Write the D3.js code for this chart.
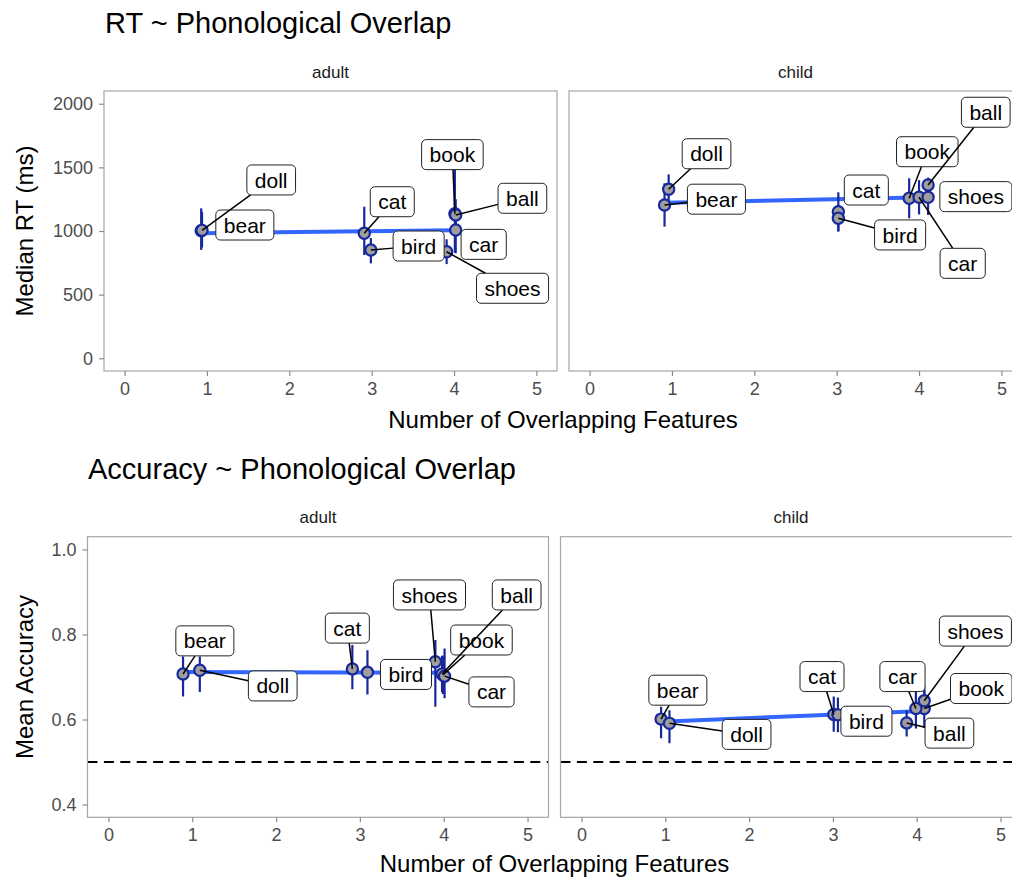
<!DOCTYPE html>
<html><head><meta charset="utf-8">
<script src="https://cdn.jsdelivr.net/npm/d3@7"></script>
<style>
body{margin:0;background:#fff;}
svg{display:block;font-family:"Liberation Sans",Arial,Helvetica,sans-serif;}
</style></head>
<body><svg id="chart" width="1012" height="879"></svg>
<script>
// ---------------- data ----------------
const words = ["bear","doll","cat","bird","book","ball","car","shoes"];

// RT, adult
const rtAdultX  = [0.93, 0.94, 2.91, 2.99, 4.01, 4.02, 4.02, 3.91];
const rtAdultY  = [1002, 1005, 982, 851, 1135, 1126, 1008, 837];
const rtAdultLo = [851, 870, 811, 746, 830, 1000, 825, 740];
const rtAdultHi = [1178, 1150, 1191, 945, 1560, 1250, 1190, 935];
const rtAdultFit = [983, 1006];

// RT, child
const rtChildX  = [0.91, 0.96, 3.02, 3.02, 3.88, 4.11, 4.00, 4.11];
const rtChildY  = [1204, 1328, 1152, 1100, 1257, 1361, 1265, 1265];
const rtChildLo = [1034, 1210, 1000, 994, 1100, 1300, 1130, 1126];
const rtChildHi = [1375, 1445, 1304, 1206, 1414, 1420, 1400, 1400];
const rtChildFit = [1221, 1266];

// Accuracy, adult
const accAdultX  = [0.89, 1.09, 2.91, 3.09, 3.99, 3.98, 4.01, 3.90];
const accAdultY  = [0.707, 0.716, 0.719, 0.711, 0.705, 0.707, 0.702, 0.736];
const accAdultLo = [0.654, 0.665, 0.671, 0.659, 0.660, 0.665, 0.650, 0.630];
const accAdultHi = [0.748, 0.748, 0.775, 0.763, 0.750, 0.750, 0.767, 0.787];
const accAdultFit = [0.712, 0.710];

// Accuracy, child
const accChildX  = [0.95, 1.05, 3.01, 3.06, 4.09, 3.88, 3.99, 4.09];
const accChildY  = [0.601, 0.591, 0.612, 0.611, 0.626, 0.592, 0.626, 0.644];
const accChildLo = [0.556, 0.544, 0.571, 0.570, 0.580, 0.560, 0.579, 0.610];
const accChildHi = [0.630, 0.622, 0.654, 0.652, 0.670, 0.622, 0.669, 0.680];
const accChildFit = [0.595, 0.620];

const xLimits = [0, 5];
const xTickValues = [0, 1, 2, 3, 4, 5];
const rtLimits = [0, 2000];
const rtTickValues = [0, 500, 1000, 1500, 2000];
const accLimits = [0.4, 1.0];
const accTickValues = [0.4, 0.6, 0.8, 1.0];
const chanceLevel = 0.5;
const facets = ["adult", "child"];

// label placement (repelled positions, in data units), same order as words
const LABEL_POS = {
  rtAdult:  [[1.46,1047],[1.78,1401],[3.25,1230],[3.57,882],[3.98,1600],[4.83,1257],[4.36,895],[4.71,550]],
  rtChild:  [[1.54,1250],[1.42,1607],[3.36,1322],[3.77,969],[4.10,1623],[4.81,1933],[4.53,746],[4.69,1270]],
  accAdult: [[1.15,0.785],[1.96,0.679],[2.85,0.815],[3.55,0.706],[4.45,0.787],[4.87,0.893],[4.57,0.665],[3.83,0.893]],
  accChild: [[1.15,0.669],[1.97,0.565],[2.87,0.701],[3.40,0.596],[4.77,0.673],[4.39,0.568],[3.83,0.701],[4.70,0.808]]
};

// ---------------- drawing ----------------
const svg = d3.select("#chart");
const POINT_FILL = "#9e9e9e", DARK = "#17289c", SMOOTH = "#3366FF";
function expand(l){const r=l[1]-l[0];return [l[0]-0.05*r, l[1]+0.05*r];}
function rows_(){
  return [
    {title:"RT ~ Phonological Overlap", tx:105, ty:33, yTitle:"Median RT (ms)",
     yLim:rtLimits, yTicks:rtTickValues, fmt:d3.format("d"),
     top:91, bottom:371, lefts:[104,569], width:453, stripY:78, xTitleY:428, ref:null,
     panels:[
       {x:rtAdultX,y:rtAdultY,lo:rtAdultLo,hi:rtAdultHi,fit:rtAdultFit,lab:LABEL_POS.rtAdult},
       {x:rtChildX,y:rtChildY,lo:rtChildLo,hi:rtChildHi,fit:rtChildFit,lab:LABEL_POS.rtChild}]},
    {title:"Accuracy ~ Phonological Overlap", tx:88, ty:479, yTitle:"Mean Accuracy",
     yLim:accLimits, yTicks:accTickValues, fmt:d3.format(".1f"),
     top:536.7, bottom:817.3, lefts:[87.5,560.5], width:461, stripY:523, xTitleY:872, ref:chanceLevel,
     panels:[
       {x:accAdultX,y:accAdultY,lo:accAdultLo,hi:accAdultHi,fit:accAdultFit,lab:LABEL_POS.accAdult},
       {x:accChildX,y:accChildY,lo:accChildLo,hi:accChildHi,fit:accChildFit,lab:LABEL_POS.accChild}]}
  ];
}

rows_().forEach(row=>{
  svg.append("text").attr("x",row.tx).attr("y",row.ty).attr("font-size",29).attr("fill","#000").text(row.title);
  const y = d3.scaleLinear().domain(expand(row.yLim)).range([row.bottom,row.top]);
  const midY=(row.top+row.bottom)/2;
  svg.append("text").attr("transform",`translate(33,${midY}) rotate(-90)`).attr("text-anchor","middle")
     .attr("font-size",24).attr("fill","#000").text(row.yTitle);
  const xl = row.lefts[0], xr = row.lefts[1]+row.width;
  svg.append("text").attr("x",(xl+xr)/2).attr("y",row.xTitleY).attr("text-anchor","middle")
     .attr("font-size",24).attr("fill","#000").text("Number of Overlapping Features");

  row.panels.forEach((p,pi)=>{
    const left=row.lefts[pi], right=left+row.width;
    const x = d3.scaleLinear().domain(expand(xLimits)).range([left,right]);
    const g = svg.append("g");
    // strip
    g.append("text").attr("x",(left+right)/2).attr("y",row.stripY).attr("text-anchor","middle")
     .attr("font-size",17).attr("fill","#1a1a1a").text(facets[pi]);
    const clipId="clip"+row.ty+"_"+pi;
    svg.append("clipPath").attr("id",clipId).append("rect")
       .attr("x",left).attr("y",row.top).attr("width",row.width).attr("height",row.bottom-row.top);
    const pg = g.append("g").attr("clip-path",`url(#${clipId})`);
    // reference line
    if(row.ref!==null){
      pg.append("line").attr("x1",left).attr("x2",right).attr("y1",y(row.ref)).attr("y2",y(row.ref))
        .attr("stroke","#000").attr("stroke-width",1.9).attr("stroke-dasharray","10,6.4");
    }
    // fit line
    const xmin=d3.min(p.x), xmax=d3.max(p.x);
    pg.append("line").attr("x1",x(xmin)).attr("x2",x(xmax)).attr("y1",y(p.fit[0])).attr("y2",y(p.fit[1]))
      .attr("stroke",SMOOTH).attr("stroke-width",4);
    const idx=d3.range(words.length);
    // error bars
    pg.selectAll(".eb").data(idx).join("line")
      .attr("x1",i=>x(p.x[i])).attr("x2",i=>x(p.x[i])).attr("y1",i=>y(p.lo[i])).attr("y2",i=>y(p.hi[i]))
      .attr("stroke",DARK).attr("stroke-width",2.2);
    pg.selectAll(".pt").data(idx).join("circle")
      .attr("cx",i=>x(p.x[i])).attr("cy",i=>y(p.y[i])).attr("r",5.6)
      .attr("fill",POINT_FILL).attr("stroke",DARK).attr("stroke-width",2.2);
    // labels
    const lg = pg.append("g");
    idx.forEach(i=>{
      const cx=x(p.lab[i][0]), cy=y(p.lab[i][1]);
      const px=x(p.x[i]), py=y(p.y[i]);
      const t = lg.append("text").attr("x",cx).attr("y",cy).attr("dy","0.36em").attr("text-anchor","middle")
        .attr("font-size",21).attr("fill","#000").text(words[i]);
      const tw=t.node().getComputedTextLength();
      const w=tw+16, h=30;
      const dx=px-cx, dy=py-cy;
      let s=Infinity;
      if(dx!==0) s=Math.min(s,(w/2)/Math.abs(dx));
      if(dy!==0) s=Math.min(s,(h/2)/Math.abs(dy));
      if(s<1){
        const ex=cx+dx*s, ey=cy+dy*s;
        const len=Math.hypot(px-ex,py-ey);
        if(len>15){
          lg.insert("line","text").attr("x1",ex).attr("y1",ey).attr("x2",px).attr("y2",py)
            .attr("stroke","#000").attr("stroke-width",1.5);
        }
      }
      lg.insert("rect","text").attr("x",cx-w/2).attr("y",cy-h/2).attr("width",w).attr("height",h)
        .attr("rx",4.5).attr("fill","#fff").attr("stroke","#222").attr("stroke-width",1);
      lg.node().appendChild(t.node());
    });
    // border
    g.append("rect").attr("x",left).attr("y",row.top).attr("width",row.width).attr("height",row.bottom-row.top)
     .attr("fill","none").attr("stroke","#a6a6a6").attr("stroke-width",1.2);
    // x axis
    const xa=g.append("g").attr("transform",`translate(0,${row.bottom})`)
      .call(d3.axisBottom(x).tickValues(xTickValues).tickSize(5).tickPadding(6).tickFormat(d3.format("d")));
    xa.select(".domain").remove();
    xa.selectAll("line").attr("stroke","#8c8c8c").attr("stroke-width",1.2);
    xa.selectAll("text").attr("font-size",18).attr("fill","#4d4d4d").attr("font-family",null);
    if(pi===0){
      const ya=g.append("g").attr("transform",`translate(${left},0)`)
        .call(d3.axisLeft(y).tickValues(row.yTicks).tickSize(5).tickPadding(6).tickFormat(row.fmt));
      ya.select(".domain").remove();
      ya.selectAll("line").attr("stroke","#8c8c8c").attr("stroke-width",1.2);
      ya.selectAll("text").attr("font-size",18).attr("fill","#4d4d4d").attr("font-family",null);
    }
  });
});
</script>
</body></html>
